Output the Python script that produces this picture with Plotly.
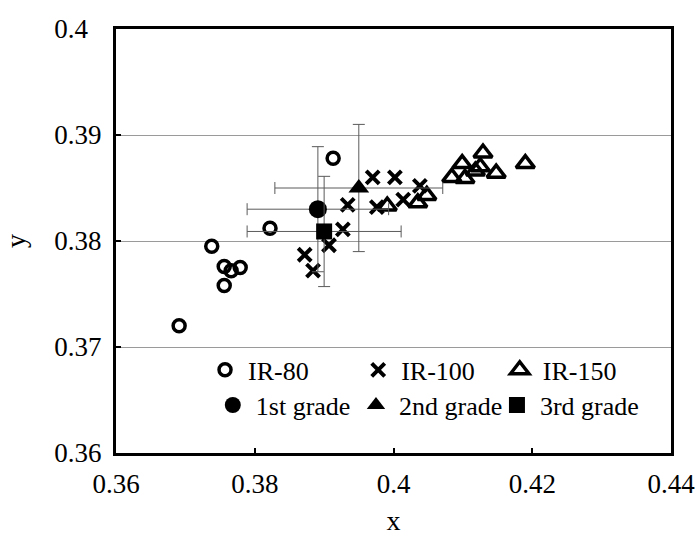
import plotly.graph_objects as go

# ---- data ----
ir80_x = [0.3691, 0.3738, 0.3756, 0.3766, 0.3779, 0.3756, 0.3822, 0.3913]
ir80_y = [0.3720, 0.3795, 0.3776, 0.3772, 0.3775, 0.3758, 0.3812, 0.3878]

ir100_x = [0.3872, 0.3884, 0.3907, 0.3927, 0.3934, 0.3970, 0.3976, 0.4002, 0.4014, 0.4038]
ir100_y = [0.3787, 0.3772, 0.3796, 0.3811, 0.3834, 0.3860, 0.3832, 0.3860, 0.3839, 0.3852]

ir150_x = [0.3991, 0.4035, 0.4048, 0.4084, 0.4099, 0.4103, 0.4118, 0.4125, 0.4129, 0.4148, 0.4190]
ir150_y = [0.3833, 0.3836, 0.3843, 0.3860, 0.3873, 0.3859, 0.3866, 0.3870, 0.3883, 0.3864, 0.3873]

grade1_x, grade1_y, grade1_ex, grade1_ey = [0.3891], [0.3830], [0.0102], [0.0059]
grade2_x, grade2_y, grade2_ex, grade2_ey = [0.3950], [0.3850], [0.0121], [0.0060]
grade3_x, grade3_y, grade3_ex, grade3_ey = [0.3900], [0.3809], [0.0111], [0.0052]

x_ticks = [0.36, 0.38, 0.40, 0.42, 0.44]
x_ticktext = ["0.36", "0.38", "0.4", "0.42", "0.44"]
y_ticks = [0.36, 0.37, 0.38, 0.39, 0.40]
y_ticktext = ["0.36", "0.37", "0.38", "0.39", "0.4\u2007"]

FONT = "Liberation Serif"
ERR_COLOR = "#5a5a5a"

fig = go.Figure()

fig.add_trace(go.Scatter(
    x=ir80_x, y=ir80_y, mode="markers", name="IR-80", legend="legend",
    marker=dict(symbol="circle-open", size=12, color="black", line=dict(width=3.5, color="black"))))
fig.add_trace(go.Scatter(
    x=ir100_x, y=ir100_y, mode="markers", name="IR-100", legend="legend2",
    marker=dict(symbol="x-thin-open", size=13, color="black", line=dict(width=4, color="black"))))
fig.add_trace(go.Scatter(
    x=ir150_x, y=ir150_y, mode="markers", name="IR-150", legend="legend3",
    marker=dict(symbol="triangle-up-open", size=16, color="black", line=dict(width=3.5, color="black"))))

def err(arr):
    return dict(type="data", array=arr, visible=True, color=ERR_COLOR, thickness=1, width=6)

fig.add_trace(go.Scatter(
    x=grade1_x, y=grade1_y, mode="markers", name="1st grade", legend="legend4",
    error_x=err(grade1_ex), error_y=err(grade1_ey),
    marker=dict(symbol="circle", size=18, color="black")))
fig.add_trace(go.Scatter(
    x=grade2_x, y=grade2_y, mode="markers", name="2nd grade", legend="legend5",
    error_x=err(grade2_ex), error_y=err(grade2_ey),
    marker=dict(symbol="triangle-up", size=18, color="black")))
fig.add_trace(go.Scatter(
    x=grade3_x, y=grade3_y, mode="markers", name="3rd grade", legend="legend6",
    error_x=err(grade3_ex), error_y=err(grade3_ey),
    marker=dict(symbol="square", size=16, color="black")))

axis_common = dict(
    showline=True, linecolor="black", linewidth=3, mirror=True, automargin=False,
    ticks="inside", ticklen=5, tickwidth=2, tickcolor="black", ticklabeloverflow="allow",
    zeroline=False, tickfont=dict(family=FONT, size=27, color="black"),
)

fig.update_xaxes(
    range=[0.36, 0.44], tickvals=x_ticks, ticktext=x_ticktext, showgrid=False,
    ticklabelstandoff=5,
    title=dict(text="x", font=dict(family=FONT, size=28, color="black"), standoff=12),
    **axis_common)
fig.update_yaxes(
    range=[0.36, 0.40], tickvals=y_ticks, ticktext=y_ticktext,
    showgrid=True, gridcolor="#9a9a9a", gridwidth=1, ticklabelstandoff=6,
    title=dict(text="y", font=dict(family=FONT, size=28, color="black"), standoff=24),
    **axis_common)

leg_common = dict(
    orientation="v", font=dict(family=FONT, size=26, color="black"),
    bgcolor="rgba(0,0,0,0)", borderwidth=0, itemwidth=36,
    xanchor="left", yanchor="middle", itemclick=False,
)
ROW1, ROW2 = 0.196, 0.113
fig.update_layout(
    width=695, height=541,
    margin=dict(l=116, r=24, t=29, b=88, autoexpand=False),
    paper_bgcolor="white", plot_bgcolor="white",
    showlegend=True,
    legend=dict(x=0.155, y=ROW1, **leg_common),
    legend2=dict(x=0.431, y=ROW1, **leg_common),
    legend3=dict(x=0.686, y=ROW1, **leg_common),
    legend4=dict(x=0.169, y=ROW2, **leg_common),
    legend5=dict(x=0.427, y=ROW2, **leg_common),
    legend6=dict(x=0.681, y=ROW2, **leg_common),
)

fig.write_html(
    "out.html",
    config={"displayModeBar": False},
    post_script="document.body.style.margin='0';document.body.style.overflow='hidden';",
)
